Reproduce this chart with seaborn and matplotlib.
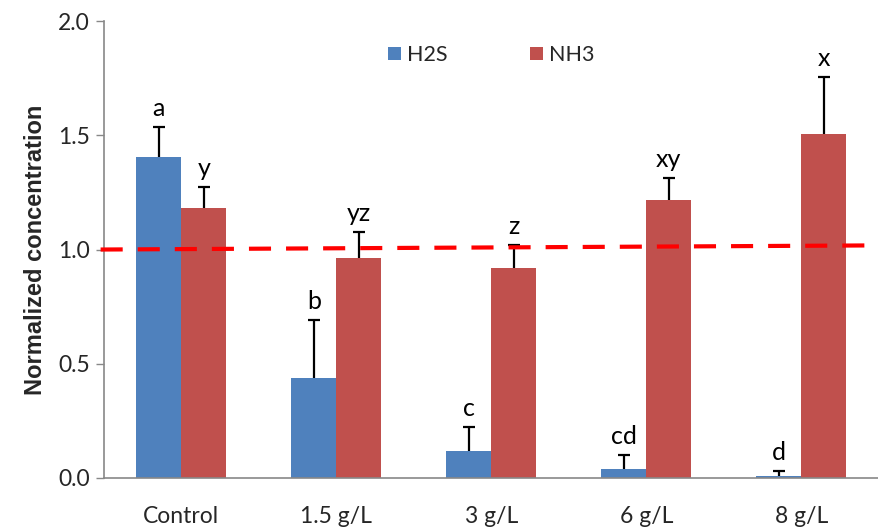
import matplotlib
matplotlib.use("Agg")
import matplotlib.pyplot as plt
import seaborn as sns
import pandas as pd
import numpy as np

categories = ["Control", "1.5 g/L", "3 g/L", "6 g/L", "8 g/L"]
h2s_values = [1.405, 0.438, 0.118, 0.040, 0.008]
h2s_errors = [0.133, 0.255, 0.105, 0.062, 0.022]
nh3_values = [1.183, 0.963, 0.920, 1.217, 1.505]
nh3_errors = [0.090, 0.112, 0.100, 0.095, 0.250]
h2s_letters = ["a", "b", "c", "cd", "d"]
nh3_letters = ["y", "yz", "z", "xy", "x"]
series = ["H2S", "NH3"]
ref_line_x = [-0.52, 4.45]
ref_line_y = [1.0, 1.018]
y_ticks = [0.0, 0.5, 1.0, 1.5, 2.0]

colors = {"H2S": "#4F81BD", "NH3": "#C0504D"}

df = pd.DataFrame({
    "category": categories * 2,
    "series": ["H2S"] * len(categories) + ["NH3"] * len(categories),
    "value": h2s_values + nh3_values,
})

sns.set_style("white")
plt.rcParams['font.family'] = ['Lato', 'DejaVu Sans']

fig = plt.figure(figsize=(8.79, 5.27), dpi=100)
ax = fig.add_axes([0.118, 0.093, 0.8817, 0.867])

sns.barplot(data=df, x="category", y="value", hue="series", order=categories,
            hue_order=series, palette=colors, width=0.58, saturation=1,
            errorbar=None, ax=ax, edgecolor="none")

bars_by_series = {}
for s, cont in zip(series, ax.containers):
    bars_by_series[s] = list(cont)

for s, vals, errs, letters in [("H2S", h2s_values, h2s_errors, h2s_letters),
                               ("NH3", nh3_values, nh3_errors, nh3_letters)]:
    xs = [b.get_x() + b.get_width() / 2 for b in bars_by_series[s]]
    _, caps, _ = ax.errorbar(xs, vals, yerr=[np.zeros(len(vals)), errs], fmt="none",
                             ecolor="black", elinewidth=1.6, capsize=4.5, capthick=1.6,
                             zorder=3)
    caps[0].set_visible(False)  # only upper caps
    for x, v, e, t in zip(xs, vals, errs, letters):
        ax.annotate(t, (x, v + e), xytext=(0, 5), textcoords="offset points",
                    ha="center", va="bottom", fontsize=18, color="black")

ax.plot(ref_line_x, ref_line_y, color="#FF0000", lw=3, ls=(0, (5.3, 3.6)),
        zorder=4, clip_on=False)

ax.set_ylim(0, 2.0)
ax.set_xlim(-0.5, 4.455)
ax.set_yticks(y_ticks)
ax.set_yticklabels([f"{t:.1f}" for t in y_ticks], fontsize=16.5)
ax.set_xticks(range(len(categories)))
ax.set_xticklabels(categories, fontsize=16.5)
ax.tick_params(axis="x", length=0, pad=20)
ax.set_xticks(np.arange(-0.5, len(categories), 1.0), minor=True)
ax.tick_params(axis="x", which="minor", length=8, width=1, color="#888888", direction="out")
ax.tick_params(axis="y", length=6, width=1, color="#888888", direction="out", left=True, pad=4)

for side in ["top", "right"]:
    ax.spines[side].set_visible(False)
for side in ["left", "bottom"]:
    ax.spines[side].set_color("#888888")
    ax.spines[side].set_linewidth(1.2)

ax.set_xlabel("")
ax.set_ylabel("Normalized concentration", fontsize=17, fontweight="bold",
              family=["Liberation Sans", "DejaVu Sans"], labelpad=8)

leg = ax.legend(loc="upper center", bbox_to_anchor=(0.5, 0.99), ncol=2, frameon=False,
                fontsize=15.5, handlelength=0.6, handleheight=0.6, columnspacing=3.8,
                handletextpad=0.3)

fig.savefig("out.png", dpi=100)
